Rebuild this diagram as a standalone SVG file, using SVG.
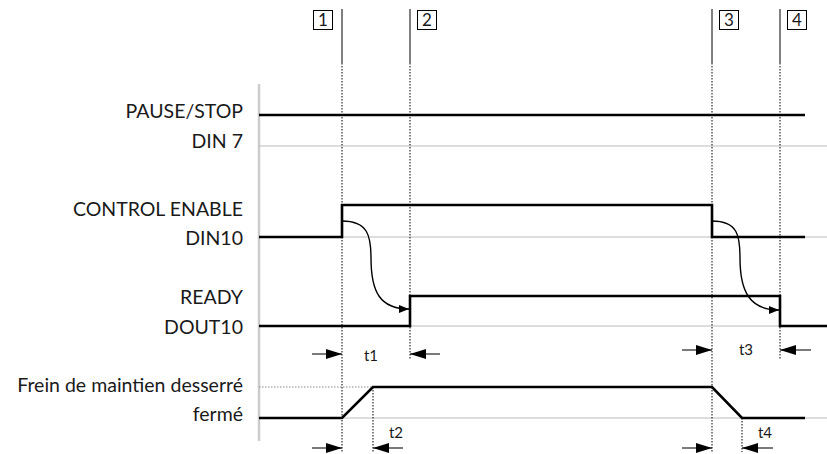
<svg xmlns="http://www.w3.org/2000/svg" width="827" height="454" viewBox="0 0 827 454">
<style>
.lbl{font-family:Lato,"Liberation Sans",sans-serif;font-size:19.5px;fill:#1a1a1a;text-anchor:end}
.num{font-family:Lato,"Liberation Sans",sans-serif;font-size:17px;fill:#1a1a1a;text-anchor:middle}
.tl{font-family:Lato,"Liberation Sans",sans-serif;font-size:15px;fill:#1a1a1a;text-anchor:middle}
.base{stroke:#bbb;stroke-width:1;fill:none}
.sig{stroke:#000;stroke-width:2.6;fill:none;stroke-linejoin:miter}
.solid{stroke:#000;stroke-width:1;fill:none}
.dot{stroke:#000;stroke-width:1;stroke-dasharray:1.5 1.5;fill:none}
.box{stroke:#000;stroke-width:1;fill:#fff}
.ta{stroke:#222;stroke-width:1.2;fill:none}
.cur{stroke:#000;stroke-width:1.4;fill:none}
</style>
<defs>
<marker id="ah" viewBox="0 0 10 10" refX="10" refY="5" markerWidth="10" markerHeight="10" markerUnits="userSpaceOnUse" orient="auto">
<path d="M0,1 L10,5 L0,9 Z" fill="#000"/>
</marker>
<marker id="th" viewBox="0 0 16 10" refX="16" refY="5" markerWidth="16" markerHeight="10" markerUnits="userSpaceOnUse" orient="auto">
<path d="M0,0 L16,5 L0,10 Z" fill="#000"/>
</marker>
</defs>

<g id="axis">
<line x1="259" y1="84" x2="259" y2="441" stroke="#ccc" stroke-width="2.5"/>
</g>

<g id="baselines">
<line class="base" x1="259" y1="146" x2="827" y2="146"/>
<line class="base" x1="259" y1="237" x2="827" y2="237"/>
<line class="base" x1="259" y1="326" x2="827" y2="326"/>
<line class="base" x1="259" y1="418" x2="827" y2="418"/>
<line x1="259" y1="387" x2="373" y2="387" stroke="#888" stroke-width="1" stroke-dasharray="1.5 1.5"/>
</g>

<g id="labels">
<text class="lbl" x="243" y="118">PAUSE/STOP</text>
<text class="lbl" x="243" y="148">DIN 7</text>
<text class="lbl" x="243" y="216">CONTROL ENABLE</text>
<text class="lbl" x="243" y="245">DIN10</text>
<text class="lbl" x="243" y="304">READY</text>
<text class="lbl" x="243" y="334">DOUT10</text>
<text class="lbl" x="243" y="392">Frein de maintien desserré</text>
<text class="lbl" x="243" y="421">fermé</text>
</g>

<g id="event1">
<rect class="box" x="313.5" y="10.5" width="19" height="19"/>
<text class="num" x="323" y="26">1</text>
<line class="solid" x1="342" y1="9" x2="342" y2="63"/>
<line class="dot" x1="342" y1="63" x2="342" y2="452"/>
</g>
<g id="event2">
<rect class="box" x="417.5" y="10.5" width="19" height="19"/>
<text class="num" x="427" y="26">2</text>
<line class="solid" x1="410" y1="9" x2="410" y2="63"/>
<line class="dot" x1="410" y1="63" x2="410" y2="360"/>
</g>
<g id="event3">
<rect class="box" x="719.5" y="10.5" width="19" height="19"/>
<text class="num" x="729" y="26">3</text>
<line class="solid" x1="712" y1="9" x2="712" y2="63"/>
<line class="dot" x1="712" y1="63" x2="712" y2="452"/>
</g>
<g id="event4">
<rect class="box" x="787.5" y="10.5" width="19" height="19"/>
<text class="num" x="797" y="26">4</text>
<line class="solid" x1="780" y1="9" x2="780" y2="63"/>
<line class="dot" x1="780" y1="63" x2="780" y2="360"/>
</g>

<g id="signals">
<polyline class="sig" points="259,115 805,115"/>
<polyline class="sig" points="259,237 342,237 342,205 712,205 712,237 805,237"/>
<polyline class="sig" points="259,326 410,326 410,296 780,296 780,326 827,326"/>
<polyline class="sig" points="259,418 342,418 373,387 712,387 742,418 805,418"/>
<line class="dot" x1="373" y1="387" x2="373" y2="452"/>
<line class="dot" x1="742" y1="418" x2="742" y2="452"/>
</g>

<g id="connectors">
<path class="cur" d="M342,221 C368,221 371,236 371,258 C371,292 380,309 409,309" marker-end="url(#ah)"/>
<path class="cur" d="M712,221 C738,221 740,236 740,258 C740,292 750,310 779,310" marker-end="url(#ah)"/>
<line class="ta" x1="312" y1="354" x2="342" y2="354" marker-end="url(#th)"/>
<line class="ta" x1="440" y1="354" x2="410" y2="354" marker-end="url(#th)"/>
<line class="ta" x1="682" y1="350" x2="712" y2="350" marker-end="url(#th)"/>
<line class="ta" x1="811" y1="350" x2="780" y2="350" marker-end="url(#th)"/>
<line class="ta" x1="312" y1="448" x2="342" y2="448" marker-end="url(#th)"/>
<line class="ta" x1="403" y1="448" x2="373" y2="448" marker-end="url(#th)"/>
<line class="ta" x1="682" y1="448" x2="712" y2="448" marker-end="url(#th)"/>
<line class="ta" x1="773" y1="448" x2="742" y2="448" marker-end="url(#th)"/>
</g>

<g id="timelabels">
<text class="tl" x="371" y="361">t1</text>
<text class="tl" x="746" y="355">t3</text>
<text class="tl" x="396" y="438">t2</text>
<text class="tl" x="765" y="438">t4</text>
</g>
</svg>
